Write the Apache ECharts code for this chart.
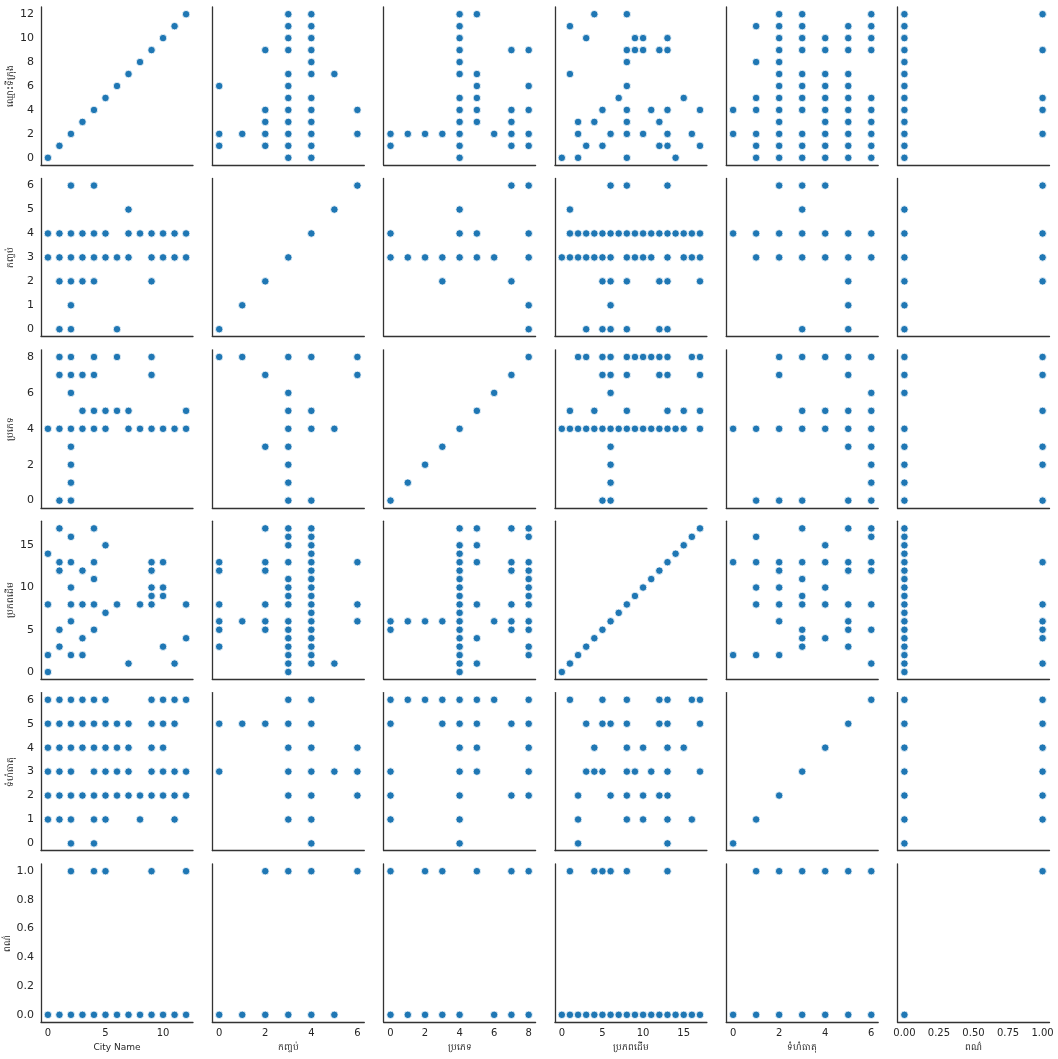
<!DOCTYPE html>
<html>
<head>
<meta charset="utf-8">
<title>Pair plot</title>
<script src="https://cdn.jsdelivr.net/npm/echarts@6/dist/echarts.min.js"></script>
<style>
  html, body { margin: 0; padding: 0; background: #fff; }
  #chart { width: 1058px; height: 1059px; }
</style>
</head>
<body>
<div id="chart"></div>
<script>
// variables: 0 city, 1 package, 2 variety, 3 origin, 4 item size, 5 colour
const xNames = ['City Name', 'កញ្ចប់', 'ប្រភេទ', 'ប្រភពដើម', 'ទំហំធាតុ', 'ពណ៌'];
const yNames = ['ឈ្មោះទីក្រុង', 'កញ្ចប់', 'ប្រភេទ', 'ប្រភពដើម', 'ទំហំធាតុ', 'ពណ៌'];

// tick labels
const xTicks = [[0, 5, 10], [0, 2, 4, 6], [0, 2, 4, 6, 8], [0, 5, 10, 15], [0, 2, 4, 6], [0, 0.25, 0.5, 0.75, 1]];
const yTicks = [[0, 2, 4, 6, 8, 10, 12], [0, 1, 2, 3, 4, 5, 6], [0, 2, 4, 6, 8], [0, 5, 10, 15], [0, 1, 2, 3, 4, 5, 6], [0, 0.2, 0.4, 0.6, 0.8, 1]];

// pair data: [value of first variable, [values of second variable]]
const packageCity = [
  [0, [1, 2, 6]],
  [1, [2]],
  [2, [1, 2, 3, 4, 9]],
  [3, [0, 1, 2, 3, 4, 5, 6, 7, 9, 10, 11, 12]],
  [4, [0, 1, 2, 3, 4, 5, 7, 8, 9, 10, 11, 12]],
  [5, [7]],
  [6, [2, 4]]
];
const varietyCity = [
  [0, [1, 2]], [1, [2]], [2, [2]], [3, [2]],
  [4, [0, 1, 2, 3, 4, 5, 7, 8, 9, 10, 11, 12]],
  [5, [3, 4, 5, 6, 7, 12]],
  [6, [2]],
  [7, [1, 2, 3, 4, 9]],
  [8, [1, 2, 4, 6, 9]]
];
const cityOrigin = [
  [0, [0, 2, 8, 14]],
  [1, [3, 5, 12, 13, 17]],
  [2, [2, 6, 8, 10, 13, 16]],
  [3, [2, 4, 8, 12]],
  [4, [5, 8, 11, 13, 17]],
  [5, [7, 15]],
  [6, [8]],
  [7, [1]],
  [8, [8]],
  [9, [8, 9, 10, 12, 13]],
  [10, [3, 9, 10, 13]],
  [11, [1]],
  [12, [4, 8]]
];
const citySize = [
  [0, [1, 2, 3, 4, 5, 6]],
  [1, [1, 2, 3, 4, 5, 6]],
  [2, [0, 1, 2, 3, 4, 5, 6]],
  [3, [2, 4, 5, 6]],
  [4, [0, 1, 2, 3, 4, 5, 6]],
  [5, [1, 2, 3, 4, 5, 6]],
  [6, [2, 3, 4, 5]],
  [7, [2, 3, 4, 5]],
  [8, [1, 2]],
  [9, [2, 3, 4, 5, 6]],
  [10, [2, 3, 4, 5, 6]],
  [11, [1, 2, 3, 5, 6]],
  [12, [2, 3, 6]]
];
const colorCity = [
  [0, [0, 1, 2, 3, 4, 5, 6, 7, 8, 9, 10, 11, 12]],
  [1, [2, 4, 5, 9, 12]]
];
const packageVariety = [
  [0, [8]], [1, [8]], [2, [3, 7]],
  [3, [0, 1, 2, 3, 4, 5, 6, 8]],
  [4, [0, 4, 5, 8]],
  [5, [4]],
  [6, [7, 8]]
];
const packageOrigin = [
  [0, [3, 5, 6, 8, 12, 13]],
  [1, [6]],
  [2, [5, 6, 8, 12, 13, 17]],
  [3, [0, 1, 2, 3, 4, 5, 6, 8, 9, 10, 11, 13, 15, 16, 17]],
  [4, [1, 2, 3, 4, 5, 6, 7, 8, 9, 10, 11, 12, 13, 14, 15, 16, 17]],
  [5, [1]],
  [6, [6, 8, 13]]
];
const packageSize = [
  [0, [3, 5]], [1, [5]], [2, [5]],
  [3, [1, 2, 3, 4, 5, 6]],
  [4, [0, 1, 2, 3, 4, 5, 6]],
  [5, [3]],
  [6, [2, 3, 4]]
];
const colorPackage = [
  [0, [0, 1, 2, 3, 4, 5]],
  [1, [2, 3, 4, 6]]
];
const varietyOrigin = [
  [0, [5, 6]], [1, [6]], [2, [6]], [3, [6]],
  [4, [0, 1, 2, 3, 4, 5, 6, 7, 8, 9, 10, 11, 12, 13, 14, 15, 17]],
  [5, [1, 4, 8, 13, 15, 17]],
  [6, [6]],
  [7, [5, 6, 8, 12, 13, 17]],
  [8, [2, 3, 5, 6, 8, 9, 10, 11, 12, 13, 16, 17]]
];
const varietySize = [
  [0, [1, 2, 3, 5, 6]], [1, [6]], [2, [6]], [3, [5, 6]],
  [4, [0, 1, 2, 3, 4, 5, 6]],
  [5, [3, 4, 5, 6]],
  [6, [6]],
  [7, [2, 5]],
  [8, [2, 3, 4, 5, 6]]
];
const colorVariety = [
  [0, [0, 1, 2, 3, 4, 6, 7, 8]],
  [1, [0, 2, 3, 5, 7, 8]]
];
const sizeOrigin = [
  [0, [2, 13]],
  [1, [2, 8, 10, 13, 16]],
  [2, [2, 6, 8, 10, 12, 13]],
  [3, [3, 4, 5, 8, 9, 11, 13, 17]],
  [4, [4, 8, 10, 13, 15]],
  [5, [3, 5, 6, 8, 12, 13, 17]],
  [6, [1, 5, 8, 12, 13, 16, 17]]
];
const colorOrigin = [
  [0, [0, 1, 2, 3, 4, 5, 6, 7, 8, 9, 10, 11, 12, 13, 14, 15, 16, 17]],
  [1, [1, 4, 5, 6, 8, 13]]
];
const colorSize = [
  [0, [0, 1, 2, 3, 4, 5, 6]],
  [1, [1, 2, 3, 4, 5, 6]]
];

// [first variable, second variable, data]
const pairList = [
  [1, 0, packageCity], [2, 0, varietyCity], [0, 3, cityOrigin], [0, 4, citySize], [5, 0, colorCity],
  [1, 2, packageVariety], [1, 3, packageOrigin], [1, 4, packageSize], [5, 1, colorPackage],
  [2, 3, varietyOrigin], [2, 4, varietySize], [5, 2, colorVariety],
  [4, 3, sizeOrigin], [5, 3, colorOrigin], [5, 4, colorSize]
];

const N = 6;
// points per cell, key "row-col" -> [[x, y]]
const cells = {};
const levels = Array.from({ length: N }, () => new Set());
pairList.forEach(([a, b, data]) => {
  data.forEach(([va, list]) => {
    list.forEach(vb => {
      levels[a].add(va); levels[b].add(vb);
      // cell row a, col b: x = var b, y = var a
      (cells[a + '-' + b] = cells[a + '-' + b] || []).push([vb, va]);
      (cells[b + '-' + a] = cells[b + '-' + a] || []).push([va, vb]);
    });
  });
});
for (let k = 0; k < N; k++) {
  cells[k + '-' + k] = [...levels[k]].sort((p, q) => p - q).map(v => [v, v]);
}
const extent = levels.map(s => {
  const arr = [...s];
  const lo = Math.min(...arr), hi = Math.max(...arr);
  const pad = (hi - lo) * 0.05;
  return [lo - pad, hi + pad];
});

const chart = echarts.init(document.getElementById('chart'));

const grids = [], xAxes = [], yAxes = [], series = [];
const textColor = '#262626';
for (let r = 0; r < N; r++) {
  for (let c = 0; c < N; c++) {
    const idx = grids.length;
    grids.push({
      left: 41 + c * 171.3,
      top: 7 + r * 171.4,
      width: 152,
      height: 158,
      outerBoundsMode: 'none'
    });
    xAxes.push({
      gridIndex: idx,
      type: 'value',
      min: extent[c][0],
      max: extent[c][1],
      axisLine: { show: true, onZero: false, lineStyle: { color: '#333', width: 1.3 } },
      axisTick: { show: false },
      splitLine: { show: false },
      axisLabel: {
        show: r === N - 1,
        customValues: xTicks[c],
        formatter: v => c === 5 ? v.toFixed(2) : String(v),
        color: textColor,
        fontSize: 10,
        margin: 6
      },
      name: r === N - 1 ? xNames[c] : '',
      nameLocation: 'middle',
      nameGap: 21,
      nameTextStyle: { color: textColor, fontSize: 9 }
    });
    yAxes.push({
      gridIndex: idx,
      type: 'value',
      min: extent[r][0],
      max: extent[r][1],
      axisLine: { show: true, onZero: false, lineStyle: { color: '#333', width: 1.3 } },
      axisTick: { show: false },
      splitLine: { show: false },
      axisLabel: {
        show: c === 0,
        customValues: yTicks[r],
        formatter: v => r === 5 ? v.toFixed(1) : String(v),
        color: textColor,
        fontSize: 11,
        margin: 7
      },
      name: c === 0 ? yNames[r] : '',
      nameLocation: 'middle',
      nameRotate: 90,
      nameGap: 26,
      nameTextStyle: { color: textColor, fontSize: 9 }
    });
    series.push({
      type: 'scatter',
      xAxisIndex: idx,
      yAxisIndex: idx,
      data: cells[r + '-' + c] || [],
      symbolSize: 7.5,
      itemStyle: { color: '#1f77b4', borderColor: '#ffffff', borderWidth: 0.8, opacity: 1 },
      emphasis: { disabled: true }
    });
  }
}

chart.setOption({
  animation: false,
  backgroundColor: '#ffffff',
  textStyle: { fontFamily: 'DejaVu Sans, Noto Sans, sans-serif' },
  grid: grids,
  xAxis: xAxes,
  yAxis: yAxes,
  series: series
});
</script>
</body>
</html>
